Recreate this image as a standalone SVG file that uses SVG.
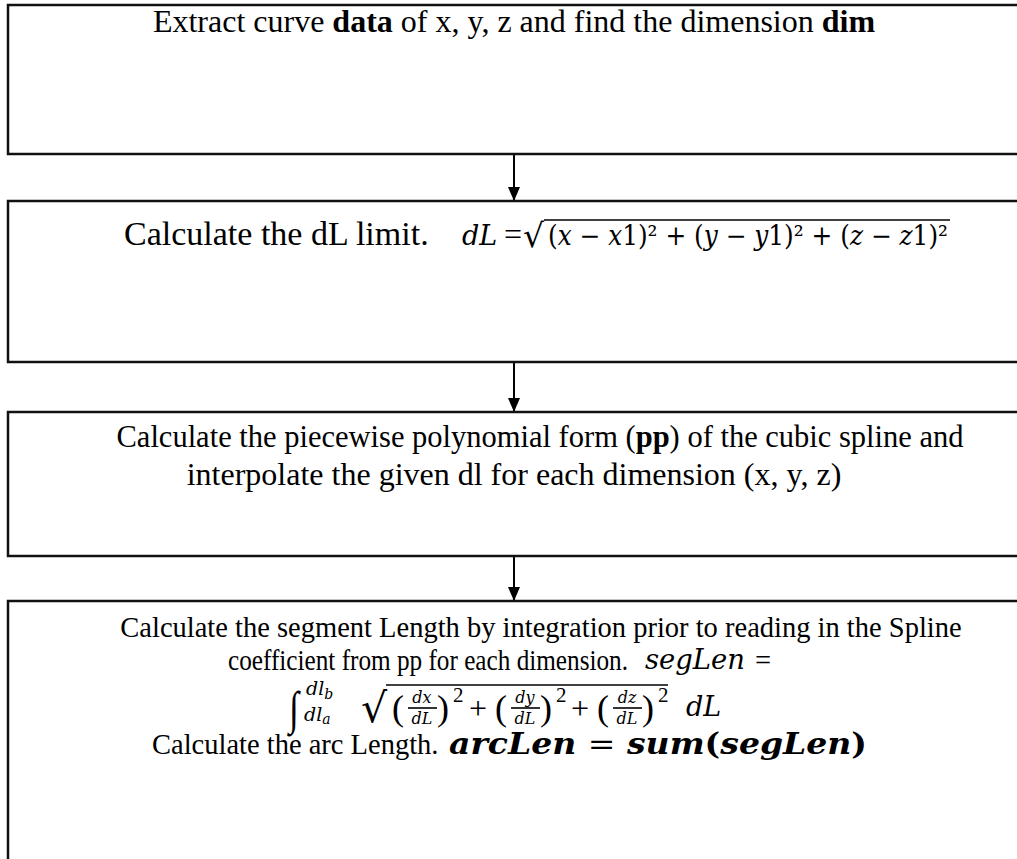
<svg xmlns="http://www.w3.org/2000/svg" width="1017" height="859" viewBox="0 0 1017 859">
<style>
.box{fill:#fff;stroke:#111;stroke-width:2.5}
.t{font-family:"Liberation Serif","Times New Roman",serif;font-size:32px;fill:#000}
.t4{font-family:"Liberation Serif","Times New Roman",serif;font-size:28.5px;fill:#000}
.m{font-family:"DejaVu Serif","Liberation Serif",serif;font-style:italic;font-size:27px;fill:#000}
.b{font-weight:bold}
.up{font-style:normal}
.nb{font-style:normal;font-weight:normal}
.conn{stroke:#000;stroke-width:2;fill:none}
.rule{stroke:#000;stroke-width:1.6}
.rad{font-family:"DejaVu Serif",serif;fill:#000}
</style>
<defs>
<marker id="ah" markerUnits="userSpaceOnUse" markerWidth="14" markerHeight="14" viewBox="0 0 14 14" refX="14" refY="7" orient="auto">
<path d="M0,1 L14,7 L0,13 Z" fill="#000"/>
</marker>
</defs>
<rect width="1017" height="859" fill="#fff"/>
<g id="connectors">
<line class="conn" x1="514" y1="155" x2="514" y2="201" marker-end="url(#ah)"/>
<line class="conn" x1="514" y1="362" x2="514" y2="412" marker-end="url(#ah)"/>
<line class="conn" x1="514" y1="556" x2="514" y2="601" marker-end="url(#ah)"/>
</g>
<g id="node1">
<rect class="box" x="8" y="5" width="1040" height="149"/>
<text class="t" x="514" y="32" text-anchor="middle">Extract curve <tspan class="b">data</tspan> of x, y, z and find the dimension <tspan class="b">dim</tspan></text>
</g>
<g id="node2">
<rect class="box" x="8" y="201" width="1040" height="161"/>
<text class="t" x="124" y="245" style="font-size:34px">Calculate the dL limit.</text>
<text class="m" x="462" y="245">dL</text>
<text class="t" x="504" y="245">=</text>
<text class="rad" x="523" y="247" style="font-size:33px">√</text>
<line class="rule" x1="544" y1="220" x2="950" y2="220"/>
<text class="m" x="548" y="245" textLength="400" lengthAdjust="spacingAndGlyphs"><tspan class="up">(</tspan>x <tspan class="up">−</tspan> x<tspan class="up">1)²</tspan> <tspan class="up">+</tspan> <tspan class="up">(</tspan>y <tspan class="up">−</tspan> y<tspan class="up">1)²</tspan> <tspan class="up">+</tspan> <tspan class="up">(</tspan>z <tspan class="up">−</tspan> z<tspan class="up">1)²</tspan></text>
</g>
<g id="node3">
<rect class="box" x="8" y="412" width="1040" height="144"/>
<text class="t" x="540" y="447" text-anchor="middle" style="font-size:30.5px">Calculate the piecewise polynomial form (<tspan class="b">pp</tspan>) of the cubic spline and</text>
<text class="t" x="514" y="485" text-anchor="middle">interpolate the given dl for each dimension (x, y, z)</text>
</g>
<g id="node4">
<rect class="box" x="8" y="601" width="1040" height="280"/>
<text class="t4" x="541" y="637" text-anchor="middle">Calculate the segment Length by integration prior to reading in the Spline</text>
<text class="t4" x="228" y="670" textLength="400" lengthAdjust="spacingAndGlyphs">coefficient from pp for each dimension.</text>
<text class="m" x="645" y="669" textLength="100" lengthAdjust="spacingAndGlyphs">segLen</text>
<text class="t4" x="755" y="670">=</text>
<text class="t" x="0" y="0" style="font-size:36px;font-style:italic" transform="translate(289,724) scale(1,1.3)">∫</text>
<text class="m" x="306" y="695" style="font-size:19px">dl<tspan style="font-size:14px" dy="4">b</tspan></text>
<text class="m" x="304" y="721" style="font-size:19px">dl<tspan style="font-size:14px" dy="3">a</tspan></text>
<text class="rad" x="361" y="722" style="font-size:41px">√</text>
<line class="rule" x1="386" y1="685" x2="668" y2="685"/>
<g class="t" style="font-size:36px">
<text x="392" y="720">(</text>
<text x="437" y="720">)</text>
<text x="495" y="720">(</text>
<text x="540" y="720">)</text>
<text x="597" y="720">(</text>
<text x="642" y="720">)</text>
</g>
<g class="m" style="font-size:16px" text-anchor="middle">
<text x="422" y="703">dx</text>
<text x="422" y="724">dL</text>
<text x="525" y="703">dy</text>
<text x="525" y="724">dL</text>
<text x="627" y="703">dz</text>
<text x="627" y="724">dL</text>
</g>
<line class="rule" x1="408" y1="708" x2="437" y2="708"/>
<line class="rule" x1="511" y1="708" x2="540" y2="708"/>
<line class="rule" x1="613" y1="708" x2="642" y2="708"/>
<g class="t" style="font-size:21px">
<text x="453" y="702">2</text>
<text x="556" y="702">2</text>
<text x="658" y="702">2</text>
</g>
<g class="t">
<text x="469" y="719">+</text>
<text x="571" y="719">+</text>
</g>
<text class="m" x="686" y="716">dL</text>
<text class="t4" x="152" y="754">Calculate the arc Length.</text>
<text class="m b" x="449" y="754" style="font-size:29px" textLength="418" lengthAdjust="spacingAndGlyphs">arcLen <tspan class="nb">=</tspan> sum<tspan class="up">(</tspan>segLen<tspan class="up">)</tspan></text>
</g>
</svg>
